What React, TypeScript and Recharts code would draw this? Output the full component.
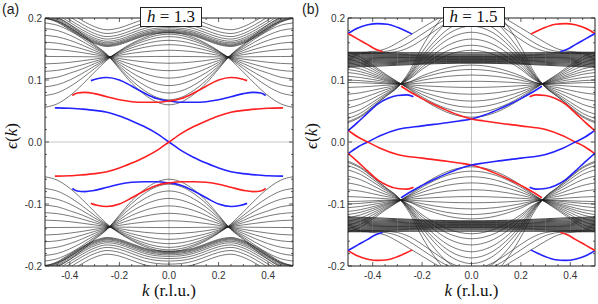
import React from 'react';
import { LineChart, Line, XAxis, YAxis, ReferenceLine, ReferenceArea } from 'recharts';

type Pt = [number, number];

// k sample points (r.l.u.) used for the bulk bands; bands are even in k
const K_GRID = [0, 0.05, 0.1, 0.15, 0.2, 0.25, 0.3, 0.35, 0.4, 0.45, 0.5];
const X_TICKS = [-0.4, -0.2, 0, 0.2, 0.4];
const X_MINOR_TICKS = [-0.45, -0.35, -0.3, -0.25, -0.15, -0.1, -0.05, 0.05, 0.1, 0.15, 0.25, 0.3, 0.35, 0.45];
const Y_TICKS = [-0.2, -0.1, 0, 0.1, 0.2];
const Y_MINOR_TICKS = [-0.18, -0.16, -0.14, -0.12, -0.08, -0.06, -0.04, -0.02, 0.02, 0.04, 0.06, 0.08, 0.12, 0.14, 0.16, 0.18];
const PANEL_TAGS = ['(a)', '(b)'];
const FIELD_VALUES = ['1.3', '1.5'];

// ---------- Panel (a), h = 1.3 : bulk bands (upper half; lower half is -E) ----------
// family crossing near k = ±0.235
const A_CROSS_BANDS = [
  [0.060, 0.0646, 0.0769, 0.0947, 0.1178, 0.1411, 0.1574, 0.1744, 0.1894, 0.2002, 0.205],
  [0.068, 0.0721, 0.0832, 0.0991, 0.1198, 0.1407, 0.1556, 0.1711, 0.1847, 0.1947, 0.199],
  [0.079, 0.0825, 0.0918, 0.1051, 0.1225, 0.1403, 0.1535, 0.1673, 0.1794, 0.1882, 0.192],
  [0.091, 0.0938, 0.1011, 0.1117, 0.1255, 0.1398, 0.1508, 0.1623, 0.1724, 0.1798, 0.183],
  [0.103, 0.105, 0.1105, 0.1183, 0.1285, 0.1391, 0.1475, 0.1563, 0.164, 0.1696, 0.172],
  [0.115, 0.1163, 0.1198, 0.1249, 0.1315, 0.1384, 0.1442, 0.1502, 0.1555, 0.1593, 0.161],
  [0.127, 0.1276, 0.1292, 0.1315, 0.1345, 0.1378, 0.1409, 0.1442, 0.147, 0.1491, 0.150],
  [0.138, 0.138, 0.1378, 0.1375, 0.1373, 0.137, 0.1373, 0.1376, 0.1378, 0.1379, 0.138],
  [0.148, 0.1473, 0.1456, 0.1431, 0.1398, 0.1363, 0.1337, 0.131, 0.1285, 0.1268, 0.126],
  [0.157, 0.1558, 0.1526, 0.148, 0.142, 0.1356, 0.1301, 0.1244, 0.1193, 0.1156, 0.114],
  [0.164, 0.1624, 0.1581, 0.1519, 0.1438, 0.1349, 0.1265, 0.1178, 0.111, 0.1045, 0.102],
  [0.170, 0.168, 0.1627, 0.1552, 0.1453, 0.1341, 0.1226, 0.1106, 0.100, 0.0924, 0.089],
  [0.174, 0.1718, 0.1659, 0.1574, 0.1463, 0.1333, 0.1184, 0.1029, 0.0893, 0.0793, 0.075],
  [0.177, 0.1746, 0.1682, 0.159, 0.147, 0.1321, 0.1127, 0.0925, 0.0746, 0.0617, 0.056],
];
// upper family ("gull wing" dense edge)
const A_UPPER_BANDS = [
  [0.176, 0.175, 0.171, 0.164, 0.157, 0.154, 0.159, 0.169, 0.181, 0.193, 0.200],
  [0.1772, 0.1762, 0.1722, 0.1652, 0.1582, 0.1552, 0.1602, 0.1702, 0.1822, 0.1942, 0.2012],
  [0.1785, 0.1775, 0.1735, 0.1665, 0.1595, 0.1565, 0.1615, 0.1715, 0.1835, 0.1955, 0.2025],
  [0.180, 0.179, 0.175, 0.168, 0.161, 0.158, 0.163, 0.173, 0.185, 0.197, 0.204],
  [0.182, 0.181, 0.177, 0.170, 0.163, 0.160, 0.165, 0.175, 0.187, 0.199, 0.206],
  [0.1845, 0.1835, 0.1795, 0.1725, 0.1655, 0.1625, 0.1675, 0.1775, 0.1895, 0.2015, 0.2085],
  [0.188, 0.187, 0.183, 0.176, 0.169, 0.166, 0.171, 0.181, 0.193, 0.205, 0.212],
  [0.192, 0.191, 0.187, 0.180, 0.173, 0.170, 0.175, 0.185, 0.197, 0.209, 0.216],
  [0.197, 0.196, 0.192, 0.185, 0.178, 0.175, 0.180, 0.190, 0.202, 0.214, 0.221],
  [0.203, 0.202, 0.198, 0.191, 0.184, 0.181, 0.186, 0.196, 0.208, 0.220, 0.227],
];
// edge states (a)
const A_EDGE_CENTER: Pt[] = [
  [-0.46, 0.055], [-0.4, 0.0545], [-0.35, 0.053], [-0.3, 0.051], [-0.25, 0.048], [-0.2, 0.042],
  [-0.15, 0.034], [-0.1, 0.025], [-0.05, 0.014], [0, 0], [0.05, -0.014], [0.1, -0.025],
  [0.15, -0.034], [0.2, -0.042], [0.25, -0.048], [0.3, -0.051], [0.35, -0.053], [0.4, -0.0545], [0.46, -0.055],
];
const A_EDGE_UPPER: Pt[] = [
  [-0.315, 0.099], [-0.29, 0.102], [-0.25, 0.104], [-0.2, 0.1], [-0.15, 0.09], [-0.1, 0.079],
  [-0.05, 0.07], [0, 0.066], [0.05, 0.064], [0.1, 0.064], [0.15, 0.065], [0.2, 0.068],
  [0.25, 0.073], [0.3, 0.078], [0.34, 0.08], [0.37, 0.079], [0.39, 0.075],
];

// ---------- Panel (b), h = 1.5 ----------
// family crossing near k = ±0.28
const B_CROSS_BANDS = [
  [0.040, 0.042, 0.048, 0.0575, 0.0697, 0.0845, 0.0972, 0.1102, 0.1242, 0.1372, 0.145],
  [0.047, 0.0488, 0.0539, 0.0622, 0.0728, 0.0856, 0.0968, 0.1085, 0.1212, 0.133, 0.140],
  [0.056, 0.0575, 0.0616, 0.0682, 0.0767, 0.0871, 0.0963, 0.1065, 0.1176, 0.1279, 0.134],
  [0.066, 0.0671, 0.070, 0.0749, 0.0811, 0.0887, 0.0958, 0.1046, 0.114, 0.1228, 0.128],
  [0.077, 0.0776, 0.0794, 0.0823, 0.086, 0.0904, 0.0953, 0.1026, 0.1104, 0.1177, 0.122],
  [0.088, 0.0882, 0.0888, 0.0897, 0.0908, 0.0922, 0.0949, 0.1009, 0.1074, 0.1134, 0.117],
  [0.098, 0.0978, 0.0973, 0.0964, 0.0952, 0.0938, 0.0945, 0.0993, 0.1044, 0.1092, 0.112],
  [0.108, 0.1074, 0.1058, 0.1031, 0.0996, 0.0954, 0.094, 0.0973, 0.1008, 0.104, 0.106],
  [0.117, 0.116, 0.1134, 0.1091, 0.1036, 0.0968, 0.0936, 0.0953, 0.0972, 0.099, 0.100],
  [0.124, 0.1228, 0.1194, 0.1138, 0.1066, 0.097, 0.0932, 0.094, 0.0948, 0.0956, 0.096],
  [0.148, 0.1458, 0.1398, 0.1299, 0.1172, 0.1018, 0.0926, 0.0914, 0.090, 0.0888, 0.088],
  [0.156, 0.1535, 0.1466, 0.1352, 0.1207, 0.1031, 0.0917, 0.0877, 0.0834, 0.0794, 0.077],
  [0.166, 0.1631, 0.155, 0.1419, 0.1251, 0.1047, 0.0908, 0.0841, 0.0768, 0.0701, 0.066],
  [0.177, 0.1736, 0.1644, 0.1493, 0.130, 0.1064, 0.090, 0.0805, 0.0702, 0.0607, 0.055],
  [0.187, 0.1832, 0.1729, 0.156, 0.1344, 0.108, 0.0892, 0.0772, 0.0642, 0.0522, 0.045],
  [0.196, 0.1919, 0.1806, 0.162, 0.1383, 0.1095, 0.0886, 0.0749, 0.060, 0.0463, 0.038],
  [0.210, 0.2053, 0.1925, 0.1714, 0.1445, 0.1117, 0.0882, 0.0732, 0.057, 0.042, 0.033],
  [0.230, 0.2245, 0.2095, 0.1848, 0.1533, 0.1149, 0.088, 0.0725, 0.0558, 0.0403, 0.031],
];
// dense nearly flat band
const B_FLAT_BANDS = [
  [0.127, 0.127, 0.1267, 0.1262, 0.1255, 0.1247, 0.1238, 0.1229, 0.122, 0.1214, 0.121],
  [0.128, 0.128, 0.1277, 0.1273, 0.1267, 0.126, 0.1252, 0.1245, 0.1237, 0.1229, 0.1225],
  [0.129, 0.129, 0.1288, 0.1285, 0.128, 0.1274, 0.1268, 0.1262, 0.1255, 0.1246, 0.124],
  [0.130, 0.130, 0.1298, 0.1296, 0.1292, 0.1288, 0.1283, 0.1278, 0.1272, 0.1262, 0.1255],
  [0.131, 0.131, 0.1309, 0.1307, 0.1304, 0.1301, 0.1297, 0.1293, 0.1287, 0.1278, 0.127],
  [0.132, 0.132, 0.1319, 0.1318, 0.1316, 0.1314, 0.1311, 0.1308, 0.1302, 0.1293, 0.1285],
  [0.133, 0.133, 0.133, 0.1329, 0.1328, 0.1327, 0.1325, 0.1322, 0.1317, 0.1309, 0.130],
  [0.134, 0.134, 0.134, 0.134, 0.134, 0.1339, 0.1338, 0.1336, 0.1332, 0.1324, 0.1315],
  [0.135, 0.135, 0.135, 0.135, 0.135, 0.1351, 0.1351, 0.135, 0.1347, 0.134, 0.133],
  [0.136, 0.136, 0.136, 0.136, 0.1361, 0.1362, 0.1363, 0.1363, 0.1361, 0.1355, 0.1345],
  [0.137, 0.137, 0.137, 0.1371, 0.1372, 0.1373, 0.1375, 0.1376, 0.1375, 0.137, 0.136],
  [0.138, 0.138, 0.138, 0.1381, 0.1383, 0.1385, 0.1387, 0.1389, 0.1389, 0.1385, 0.1375],
  [0.139, 0.139, 0.139, 0.1391, 0.1393, 0.1396, 0.1399, 0.1401, 0.1402, 0.140, 0.139],
  [0.1405, 0.1405, 0.1405, 0.1406, 0.1408, 0.141, 0.1413, 0.1415, 0.1416, 0.1414, 0.1405],
  [0.142, 0.142, 0.142, 0.142, 0.1421, 0.1423, 0.1425, 0.1427, 0.1428, 0.1427, 0.142],
  [0.144, 0.144, 0.144, 0.144, 0.144, 0.1441, 0.1442, 0.1443, 0.1444, 0.1443, 0.1435],
];
// steep bands rising to the top at small |k|
const B_STEEP_BANDS = [
  [0.220, 0.216, 0.207, 0.196, 0.184, 0.172, 0.160, 0.150, 0.146, 0.145, 0.145],
  [0.212, 0.208, 0.199, 0.187, 0.174, 0.161, 0.151, 0.146, 0.145, 0.144, 0.144],
  [0.205, 0.201, 0.192, 0.179, 0.165, 0.153, 0.146, 0.144, 0.143, 0.143, 0.143],
];
// edge states (b)
const B_EDGE_CROSS: Pt[] = [
  [-0.5, -0.019], [-0.46, -0.008], [-0.42, 0], [-0.37, 0.01], [-0.3, 0.02], [-0.2, 0.026],
  [-0.1, 0.031], [-0.05, 0.034], [0, 0.037], [0.05, 0.043], [0.1, 0.051], [0.15, 0.06],
  [0.2, 0.07], [0.25, 0.081], [0.285, 0.09],
];
const B_EDGE_SIDE: Pt[] = [
  [-0.5, 0.018], [-0.46, 0.032], [-0.42, 0.047], [-0.38, 0.061], [-0.34, 0.07],
  [-0.3, 0.075], [-0.26, 0.076], [-0.235, 0.073],
];
const B_EDGE_ARC: Pt[] = [
  [-0.5, 0.175], [-0.46, 0.184], [-0.42, 0.189], [-0.38, 0.191], [-0.34, 0.19],
  [-0.3, 0.185], [-0.27, 0.18], [-0.24, 0.174],
];
const B_EDGE_DROP: Pt[] = [
  [-0.5, 0.175], [-0.46, 0.166], [-0.42, 0.157], [-0.39, 0.15], [-0.36, 0.146],
];

const RED = '#ff2020';
const BLUE = '#2323ff';
const INK = '#1e1e1e';
const SANS = '"Liberation Sans", Arial, Helvetica, sans-serif';
const SERIF = '"Liberation Serif", "Times New Roman", serif';

const CHART_W = 300;
const CHART_H = 304;
const PLOT_TOP = 18;
const PLOT_BOTTOM = 266;

const flipK = (a: Pt[]): Pt[] => a.map(([k, e]) => [-k, e] as Pt).reverse();
const flipE = (a: Pt[]): Pt[] => a.map(([k, e]) => [k, -e] as Pt);
const toPts = (a: Pt[]) => a.map(([k, e]) => ({ k, e }));

function bandPoints(vals: number[], sign: number) {
  const pts: { k: number; e: number }[] = [];
  for (let i = K_GRID.length - 1; i > 0; i--) pts.push({ k: -K_GRID[i], e: sign * vals[i] });
  for (let i = 0; i < K_GRID.length; i++) pts.push({ k: K_GRID[i], e: sign * vals[i] });
  return pts;
}

const fmt = (v: number) => (Math.abs(v) < 1e-9 ? '0.0' : (v < 0 ? '-' : '') + Math.abs(v).toFixed(1));
const isMajor = (v: number, majors: number[]) => majors.some((m) => Math.abs(m - v) < 1e-9);

const A_COLORED = [
  { pts: A_EDGE_CENTER, color: BLUE },
  { pts: flipK(A_EDGE_CENTER), color: RED },
  { pts: A_EDGE_UPPER, color: BLUE },
  { pts: flipK(A_EDGE_UPPER), color: RED },
  { pts: flipE(flipK(A_EDGE_UPPER)), color: BLUE },
  { pts: flipE(A_EDGE_UPPER), color: RED },
];
const B_COLORED = [
  { pts: B_EDGE_CROSS, color: BLUE },
  { pts: flipK(B_EDGE_CROSS), color: RED },
  { pts: flipE(B_EDGE_CROSS), color: RED },
  { pts: flipE(flipK(B_EDGE_CROSS)), color: BLUE },
  { pts: B_EDGE_SIDE, color: BLUE },
  { pts: flipK(B_EDGE_SIDE), color: RED },
  { pts: flipE(B_EDGE_SIDE), color: RED },
  { pts: flipE(flipK(B_EDGE_SIDE)), color: BLUE },
  { pts: B_EDGE_ARC, color: BLUE },
  { pts: B_EDGE_DROP, color: RED },
  { pts: flipK(B_EDGE_ARC), color: RED },
  { pts: flipK(B_EDGE_DROP), color: BLUE },
  { pts: flipE(B_EDGE_ARC), color: RED },
  { pts: flipE(B_EDGE_DROP), color: BLUE },
  { pts: flipE(flipK(B_EDGE_ARC)), color: BLUE },
  { pts: flipE(flipK(B_EDGE_DROP)), color: RED },
];

type PanelProps = {
  left: number;
  yAxisWidth: number;
  rightMargin: number;
  bands: number[][];
  denseBands: number[][];
  colored: { pts: Pt[]; color: string }[];
  tag: string;
  field: string;
};

const X_ALL_TICKS = [...X_TICKS, ...X_MINOR_TICKS].sort((a, b) => a - b);
const Y_ALL_TICKS = [...Y_TICKS, ...Y_MINOR_TICKS].sort((a, b) => a - b);

function Panel({ left, yAxisWidth, rightMargin, bands, denseBands, colored, tag, field }: PanelProps) {
  const plotLeft = yAxisWidth;
  const plotRight = CHART_W - rightMargin;
  const cx = (plotLeft + plotRight) / 2;

  const xTick = (p: any) => {
    const major = isMajor(p.payload.value, X_TICKS);
    const len = major ? 4 : 2;
    return (
      <g>
        <line x1={p.x} x2={p.x} y1={PLOT_BOTTOM} y2={PLOT_BOTTOM - len} stroke={INK} strokeWidth={0.7} />
        <line x1={p.x} x2={p.x} y1={PLOT_TOP} y2={PLOT_TOP + len} stroke={INK} strokeWidth={0.7} />
        {major && (
          <text x={p.x} y={p.y} dy="0.71em" textAnchor="middle" fontSize={10} fontFamily={SANS} fill="#333">
            {fmt(p.payload.value)}
          </text>
        )}
      </g>
    );
  };
  const yTick = (p: any) => {
    const major = isMajor(p.payload.value, Y_TICKS);
    const len = major ? 4 : 2;
    return (
      <g>
        <line x1={plotLeft} x2={plotLeft + len} y1={p.y} y2={p.y} stroke={INK} strokeWidth={0.7} />
        <line x1={plotRight} x2={plotRight - len} y1={p.y} y2={p.y} stroke={INK} strokeWidth={0.7} />
        {major && (
          <text x={p.x} y={p.y} dy="0.35em" textAnchor="end" fontSize={10} fontFamily={SANS} fill="#333">
            {fmt(p.payload.value)}
          </text>
        )}
      </g>
    );
  };

  return (
    <div style={{ position: 'absolute', left, top: 0, width: CHART_W, height: CHART_H }}>
      <LineChart width={CHART_W} height={CHART_H} margin={{ top: PLOT_TOP, right: rightMargin, bottom: 8, left: 0 }}>
        <XAxis
          dataKey="k" type="number" domain={[-0.5, 0.5]} ticks={X_ALL_TICKS} interval={0}
          allowDataOverflow axisLine={false} tickLine={false} tickSize={4} tickMargin={2} height={30} tick={xTick}
        />
        <YAxis
          type="number" domain={[-0.2, 0.2]} ticks={Y_ALL_TICKS} interval={0} width={yAxisWidth}
          allowDataOverflow axisLine={false} tickLine={false} tickSize={2} tickMargin={1} tick={yTick}
        />
        <ReferenceLine x={0} stroke="#b8b8b8" strokeWidth={0.8} />
        <ReferenceLine y={0} stroke="#b8b8b8" strokeWidth={0.8} />
        {bands.map((b, i) => (
          <Line key={'u' + i} data={bandPoints(b, 1)} dataKey="e" type="monotone" dot={false}
            stroke={INK} strokeWidth={0.6} isAnimationActive={false} />
        ))}
        {bands.map((b, i) => (
          <Line key={'d' + i} data={bandPoints(b, -1)} dataKey="e" type="monotone" dot={false}
            stroke={INK} strokeWidth={0.6} isAnimationActive={false} />
        ))}
        {denseBands.map((b, i) => (
          <Line key={'fu' + i} data={bandPoints(b, 1)} dataKey="e" type="monotone" dot={false}
            stroke={INK} strokeWidth={0.8} isAnimationActive={false} />
        ))}
        {denseBands.map((b, i) => (
          <Line key={'fd' + i} data={bandPoints(b, -1)} dataKey="e" type="monotone" dot={false}
            stroke={INK} strokeWidth={0.8} isAnimationActive={false} />
        ))}
        {colored.map((c, i) => (
          <Line key={'c' + i} data={toPts(c.pts)} dataKey="e" type="monotone" dot={false}
            stroke={c.color} strokeWidth={1.6} isAnimationActive={false} />
        ))}
        <ReferenceArea x1={-0.5} x2={0.5} y1={-0.2} y2={0.2} fill="none" stroke={INK} strokeWidth={1} />
      </LineChart>
      <div style={{ position: 'absolute', left: 2, top: 1, fontFamily: SANS, fontSize: 14, color: '#222' }}>{tag}</div>
      <div
        style={{
          position: 'absolute', left: cx - 29, top: 7, width: 62, height: 20, boxSizing: 'border-box',
          border: '1px solid #222', background: '#fff', fontFamily: SERIF, fontSize: 17,
          lineHeight: '18px', textAlign: 'center', color: '#111', whiteSpace: 'nowrap',
        }}
      >
        <i>h</i> = {field}
      </div>
      <div
        style={{
          position: 'absolute', left: cx - 50, top: 281, width: 100, textAlign: 'center',
          fontFamily: SERIF, fontSize: 17, color: '#111', whiteSpace: 'nowrap',
        }}
      >
        <i>k</i> (r.l.u.)
      </div>
      <div
        style={{
          position: 'absolute', left: 12 - 30, top: 136 - 10, width: 60, height: 20, textAlign: 'center',
          fontFamily: SERIF, fontSize: 17, lineHeight: '20px', color: '#111', transform: 'rotate(-90deg)',
          whiteSpace: 'nowrap',
        }}
      >
        <i>ϵ</i>(<i>k</i>)
      </div>
    </div>
  );
}

export default function App() {
  return (
    <div style={{ position: 'absolute', left: 0, top: 0, width: 598, height: 304, background: '#fff' }}>
      <Panel left={0} yAxisWidth={45} rightMargin={7} bands={[...A_CROSS_BANDS, ...A_UPPER_BANDS]} denseBands={[]}
        colored={A_COLORED} tag={PANEL_TAGS[0]} field={FIELD_VALUES[0]} />
      <Panel left={300} yAxisWidth={48} rightMargin={5}
        bands={[...B_CROSS_BANDS, ...B_STEEP_BANDS]} denseBands={B_FLAT_BANDS}
        colored={B_COLORED} tag={PANEL_TAGS[1]} field={FIELD_VALUES[1]} />
    </div>
  );
}
